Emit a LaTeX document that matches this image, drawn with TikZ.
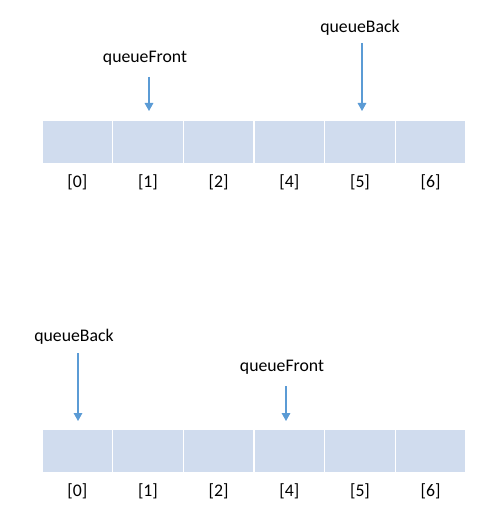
\documentclass[tikz,border=0pt]{standalone}
\usepackage{fontspec}
\setmainfont{Carlito}
\usepackage{tikz}
\usetikzlibrary{calc, arrows.meta}
\definecolor{cellblue}{RGB}{208,220,238}
\definecolor{arrowblue}{RGB}{91,155,213}

\begin{document}
\begin{tikzpicture}[x=0.75pt,y=-0.75pt]
\tikzstyle{cell}=[rectangle,fill=cellblue,draw=white,line width=1pt,minimum width=53pt,minimum height=32pt,inner sep=0pt]
\tikzstyle{idx}=[font=\fontsize{13.3}{15}\selectfont,inner sep=1pt]
\tikzstyle{ptr}=[font=\fontsize{13.3}{15}\selectfont,inner sep=1pt]
\tikzstyle{pointer}=[draw=arrowblue,line width=0.8pt,-{Triangle[length=6pt,width=6.5pt]}]
\useasboundingbox (0,0) rectangle (496,523);
% top array
\foreach \i/\lbl [count=\k from 0] in {0/{[0]},1/{[1]},2/{[2]},3/{[4]},4/{[5]},5/{[6]}} {
  \node[cell] (T_\i) at ({77.3+70.67*\k},142) {};
  \node[idx] (TL_\i) at ({77.3+70.67*\k},182) {\lbl};
}
\node[ptr] (T_front) at (145,58) {queueFront};
\node[ptr] (T_back) at (360,28) {queueBack};
\coordinate (T_fs) at (149,77);
\coordinate (T_fe) at (149,111);
\coordinate (T_bs) at (362,43);
\coordinate (T_be) at (362,111);
\draw[pointer] (T_fs) -- (T_fe);
\draw[pointer] (T_bs) -- (T_be);
% bottom array
\foreach \i/\lbl [count=\k from 0] in {0/{[0]},1/{[1]},2/{[2]},3/{[4]},4/{[5]},5/{[6]}} {
  \node[cell] (B_\i) at ({77.3+70.67*\k},451) {};
  \node[idx] (BL_\i) at ({77.3+70.67*\k},491) {\lbl};
}
\node[ptr] (B_back) at (74,337) {queueBack};
\node[ptr] (B_front) at (282,367) {queueFront};
\coordinate (B_bs) at (78,353);
\coordinate (B_be) at (78,421);
\coordinate (B_fs) at (286,386);
\coordinate (B_fe) at (286,421);
\draw[pointer] (B_bs) -- (B_be);
\draw[pointer] (B_fs) -- (B_fe);
\end{tikzpicture}
\end{document}
